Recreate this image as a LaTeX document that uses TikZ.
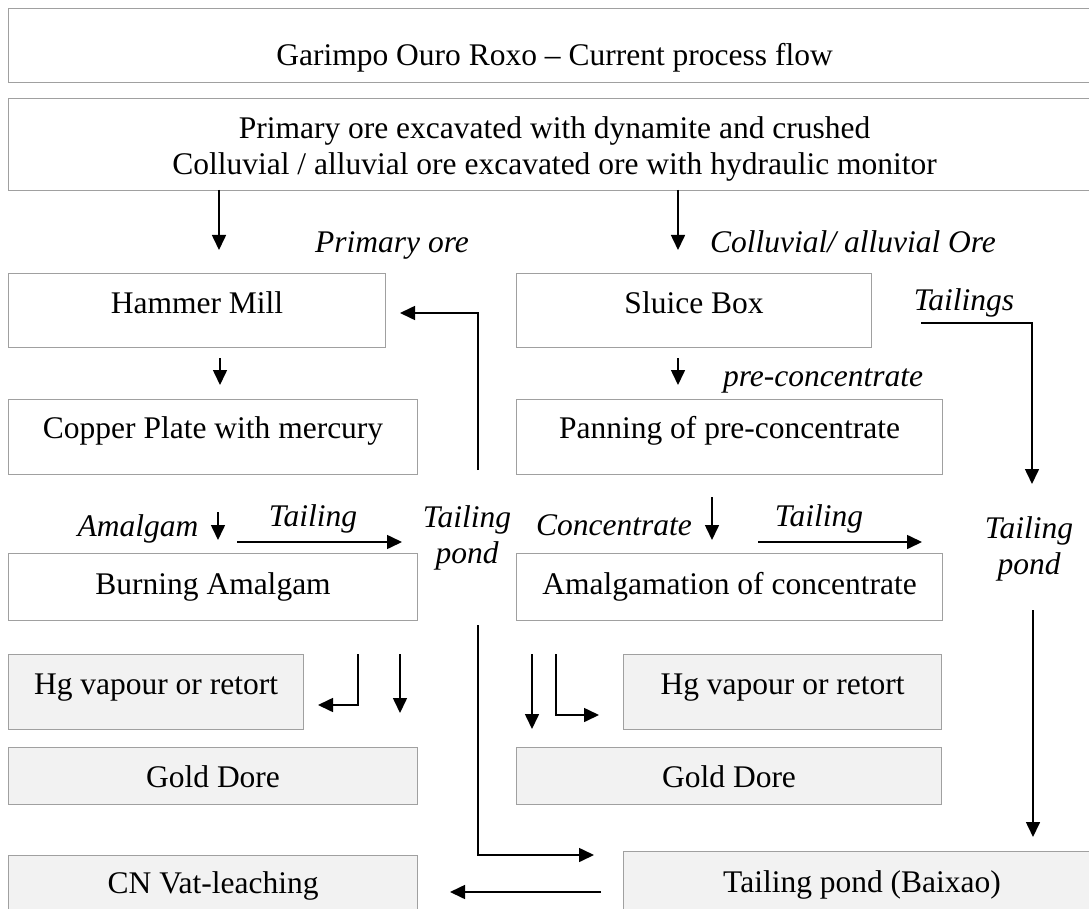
\documentclass[tikz,border=0pt]{standalone}
\usepackage{fontspec}
\setmainfont{Liberation Serif}
\usetikzlibrary{arrows.meta}
\definecolor{boxgray}{HTML}{A0A0A0}
\definecolor{fillgray}{HTML}{F2F2F2}
\newcommand\fsz{\fontsize{31.5}{36}\selectfont}
\begin{document}
\begin{tikzpicture}[x=1pt,y=-1pt,
  box/.style={draw=boxgray, line width=1.1pt, anchor=north west, inner xsep=0pt, inner ysep=0pt, minimum height=0pt, font=\fsz},
  grbox/.style={box, fill=fillgray},
  lbl/.style={font=\fsz\itshape, anchor=base, inner sep=0pt},
  arr/.style={line width=1.6pt, -{Triangle[length=15pt,width=14pt]}}]
\fill[white] (0,0) rectangle (1089,909);
\useasboundingbox (0,0) rectangle (1089,909);

% boxes
\node[box, minimum width=1092pt, text height=57pt, text depth=17pt] (title) at (8,8) {Garimpo Ouro Roxo -- Current process flow};
\node[box, minimum width=1092pt, text height=40pt, text depth=52pt] (ore) at (8,98)
  {\begin{tabular}[t]{@{}c@{}}Primary ore excavated with dynamite and crushed\\ Colluvial / alluvial ore excavated ore with hydraulic monitor\end{tabular}};
\node[box, minimum width=377pt, text height=40pt, text depth=34pt] (hammer) at (8,273) {Hammer Mill};
\node[box, minimum width=355pt, text height=40pt, text depth=34pt] (sluice) at (516,273) {Sluice Box};
\node[box, minimum width=409pt, text height=39pt, text depth=36pt] (copper) at (8,399) {Copper Plate with mercury};
\node[box, minimum width=426pt, text height=39pt, text depth=36pt] (panning) at (516,399) {Panning of pre-concentrate};
\node[box, minimum width=409pt, text height=41pt, text depth=26pt] (burning) at (8,553) {Burning Amalgam};
\node[box, minimum width=426pt, text height=41pt, text depth=26pt] (amalg) at (516,553) {Amalgamation of concentrate};
\node[grbox, minimum width=295pt, text height=40pt, text depth=35pt] (hgl) at (8,654) {Hg vapour or retort};
\node[grbox, minimum width=318pt, text height=40pt, text depth=35pt] (hgr) at (623,654) {Hg vapour or retort};
\node[grbox, minimum width=409pt, text height=40pt, text depth=17pt] (goldl) at (8,747) {Gold Dore};
\node[grbox, minimum width=425pt, text height=40pt, text depth=17pt] (goldr) at (516,747) {Gold Dore};
\node[grbox, minimum width=409pt, text height=38pt, text depth=60pt] (cn) at (8,855) {CN Vat-leaching};
\node[grbox, minimum width=477pt, text height=41pt, text depth=60pt] (baixao) at (623,851) {Tailing pond (Baixao)};

% labels
\node[lbl] (lprim) at (392,253) {Primary ore};
\node[lbl] (lcoll) at (853,253) {Colluvial/ alluvial Ore};
\node[lbl] (ltails) at (964,310) {Tailings};
\node[lbl] (lpre) at (823,386) {pre-concentrate};
\node[lbl] (lamal) at (138,536) {Amalgam};
\node[lbl] (ltl) at (313,526) {Tailing};
\node[lbl] (lpondl) at (467,527) {\begin{tabular}[t]{@{}c@{}}Tailing\\ pond\end{tabular}};
\node[lbl] (lconc) at (614,535) {Concentrate};
\node[lbl] (ltr) at (819,526) {Tailing};
\node[lbl] (lpondr) at (1029,538) {\begin{tabular}[t]{@{}c@{}}Tailing\\ pond\end{tabular}};

% connector end points
\coordinate (a1s) at (219,190); \coordinate (a1e) at (219,250);
\coordinate (a2s) at (678,190); \coordinate (a2e) at (678,250);
\coordinate (a3s) at (220,358); \coordinate (a3e) at (220,385);
\coordinate (a4s) at (678,358); \coordinate (a4e) at (678,385);
\coordinate (a5s) at (218,512); \coordinate (a5e) at (218,540);
\coordinate (a6s) at (712,497); \coordinate (a6e) at (712,540);
\coordinate (a7s) at (237,542); \coordinate (a7e) at (402,542);
\coordinate (a8s) at (758,542); \coordinate (a8e) at (922,542);
\coordinate (a9s) at (478,470); \coordinate (a9e) at (400,313);
\coordinate (a10s) at (921,323); \coordinate (a10e) at (1032,484);
\coordinate (a11s) at (478,625); \coordinate (a11e) at (594,855);
\coordinate (a12s) at (1033,610); \coordinate (a12e) at (1033,837);
\coordinate (a13s) at (358,654); \coordinate (a13e) at (318,705);
\coordinate (a14s) at (400,654); \coordinate (a14e) at (400,713);
\coordinate (a15s) at (532,654); \coordinate (a15e) at (532,729);
\coordinate (a16s) at (556,654); \coordinate (a16e) at (599,715);
\coordinate (a17s) at (601,892); \coordinate (a17e) at (450,892);

% connectors
\draw[arr] (a1s) -- (a1e);
\draw[arr] (a2s) -- (a2e);
\draw[arr] (a3s) -- (a3e);
\draw[arr] (a4s) -- (a4e);
\draw[arr] (a5s) -- (a5e);
\draw[arr] (a6s) -- (a6e);
\draw[arr] (a7s) -- (a7e);
\draw[arr] (a8s) -- (a8e);
\draw[arr] (a9s) |- (a9e);
\draw[arr] (a10s) -| (a10e);
\draw[arr] (a11s) |- (a11e);
\draw[arr] (a12s) -- (a12e);
\draw[arr] (a13s) |- (a13e);
\draw[arr] (a14s) -- (a14e);
\draw[arr] (a15s) -- (a15e);
\draw[arr] (a16s) |- (a16e);
\draw[arr] (a17s) -- (a17e);
\end{tikzpicture}
\end{document}
